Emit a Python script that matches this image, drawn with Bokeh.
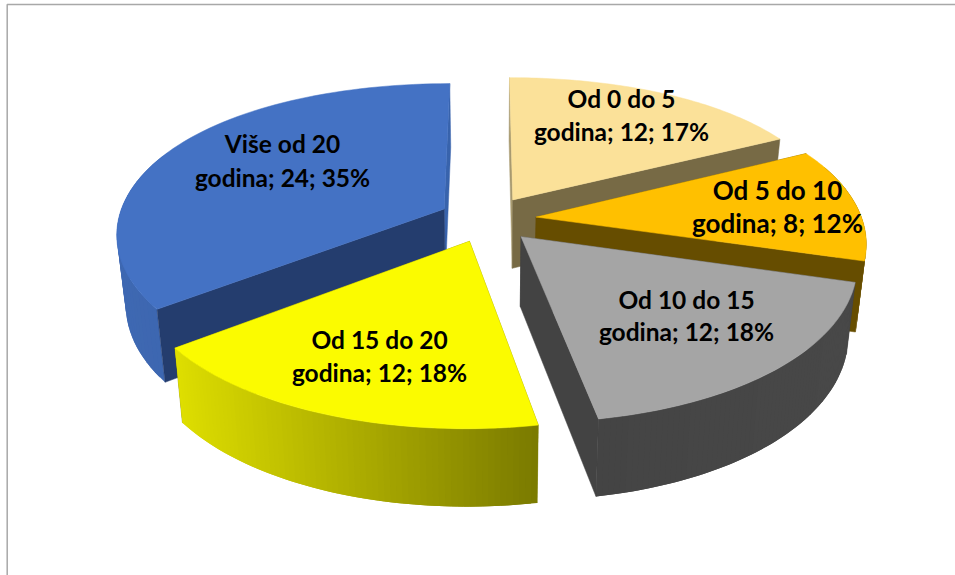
import numpy as np
from bokeh.plotting import figure
from bokeh.models import ColumnDataSource, Range1d
from bokeh.core.properties import value, field
from bokeh.embed import file_html
from bokeh.resources import INLINE

# ---- data
categories = ["Od 0 do 5", "Od 5 do 10", "Od 10 do 15", "Od 15 do 20", "Više od 20"]
counts = [12, 8, 12, 12, 24]
percents = [17, 12, 18, 18, 35]
label_line1 = categories
label_line2 = ["godina; 12; 17%", "godina; 8; 12%", "godina; 12; 18%", "godina; 12; 18%", "godina; 24; 35%"]

# ---- styles
top_colors = ["#FBE199", "#FFC000", "#A5A5A5", "#FBFB00", "#4472C4"]
wall_colors = ["#776A45", "#664D00", "#434343", "#7F7F00", "#243D6E"]
back_wall_colors = ["#A89A70", "#664D00", "#434343", "#7F7F00", "#3863AC"]
rim_left = [(120, 106, 69), (116, 88, 0), (68, 68, 68), (222, 222, 0), (62, 104, 178)]
rim_right = [(120, 106, 69), (116, 88, 0), (72, 72, 72), (122, 122, 0), (56, 96, 166)]
draw_order = [0, 4, 1, 2, 3]
hidden_wall = [[0], [0], [0], [0, -1], [-1]]
shown_wall = [[-1], [-1], [-1], [], [0]]
label_x = [621, 777, 686, 379, 282]
label_y1 = [98, 189, 299, 339, 143]
label_y2 = [131, 222, 331, 372, 177]
label_sizes = ["24.5px", "26px", "24.5px", "24.5px", "24.5px"]

# ---- projection of the tilted, exploded pie
CX, CY = 487.0, 218.7
EXPLODE = 0.15
RX, PERSP_X = 326.0, 0.15
RY, CURVE_Y = 154.5, 25.7
VANISH_X = 490.0


def flat(theta, mid, r=1.0):
    u = EXPLODE * np.sin(mid) + r * np.sin(theta)
    v = -EXPLODE * np.cos(mid) - r * np.cos(theta)
    return CX + RX * u / (1 - PERSP_X * v), CY + RY * v + CURVE_Y * v * v


def drop(x, y):
    return x + (VANISH_X - x) * 0.024, y + 60 + 0.042 * y


def hexcol(c):
    return "#%02X%02X%02X" % tuple(int(round(i)) for i in c)


p = figure(width=955, height=575, output_backend="svg", toolbar_location=None,
           x_range=Range1d(0, 955), y_range=Range1d(575, 0),
           min_border=0, outline_line_color=None, background_fill_color="white")
p.margin = (0, 0, 0, 0)
p.axis.visible = False
p.grid.visible = False

# chart frame
p.line(x=[6.7, 6.7, 955], y=[575, 4, 4], line_color="#A8A8A8", line_width=1.5)

fractions = np.array(counts, dtype=float) / sum(counts)
edges = np.concatenate([[0], np.cumsum(fractions)]) * 2 * np.pi

for i in draw_order:
    a0, a1 = edges[i], edges[i + 1]
    mid = (a0 + a1) / 2
    th = np.linspace(a0, a1, 70)
    x, y = flat(th, mid)
    ax, ay = flat(0.0, mid, 0.0)
    bx, by = drop(x, y)
    abx, aby = drop(ax, ay)

    def wall(k, colour):
        p.patch([ax, x[k], bx[k], abx], [ay, y[k], by[k], aby],
                fill_color=colour, line_color=colour, line_width=0.5)

    for k in hidden_wall[i]:
        wall(k, back_wall_colors[i])

    # outer rim with horizontal shading; each band runs under the next so no seams show
    xs, ys, cs = [], [], []
    lo, hi = min(x.min(), bx.min()), max(x.max(), bx.max())
    for j in range(len(th) - 1):
        if -np.cos(th[j]) <= -0.35:
            continue
        e = min(j + 2, len(th) - 1)
        xs.append([x[j], x[e], bx[e], bx[j]])
        ys.append([y[j], y[e], by[e], by[j]])
        t = ((x[j] + x[j + 1]) / 2 - lo) / (hi - lo)
        cs.append(hexcol(np.array(rim_left[i]) * (1 - t) + np.array(rim_right[i]) * t))
    src = ColumnDataSource(dict(xs=xs, ys=ys, c=cs))
    p.patches("xs", "ys", source=src, fill_color="c", line_color=None)

    for k in shown_wall[i]:
        wall(k, wall_colors[i])

    # top face
    p.patch(np.concatenate([[ax], x]), np.concatenate([[ay], y]),
            fill_color=top_colors[i], line_color=top_colors[i], line_width=0.5)

font = value("Lato")
for ys_, txt in ((label_y1, label_line1), (label_y2, label_line2)):
    src = ColumnDataSource(dict(x=label_x, y=ys_, t=txt, s=label_sizes))
    p.text("x", "y", text="t", source=src, text_font=font, text_font_style="bold",
           text_font_size=field("s"), text_color="#000000", text_align="center", text_baseline="middle")

open("out.html", "w").write(file_html(p, INLINE))
